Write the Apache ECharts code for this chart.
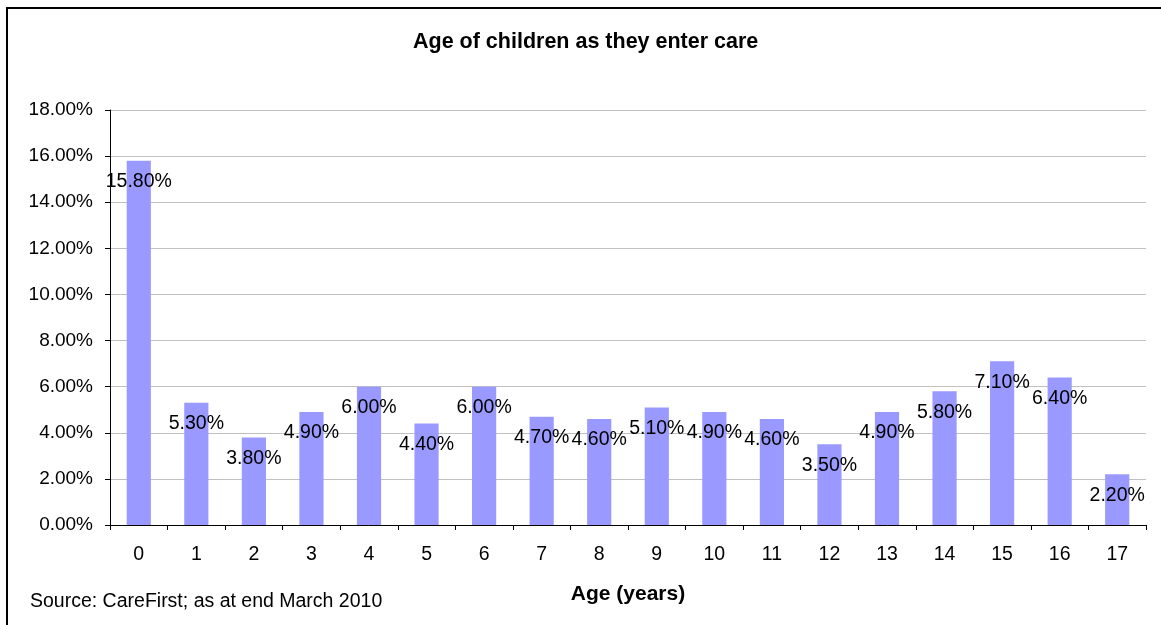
<!DOCTYPE html>
<html>
<head>
<meta charset="utf-8">
<script src="https://cdn.jsdelivr.net/npm/echarts@6/dist/echarts.min.js"></script>
<style>
  html, body { margin: 0; padding: 0; background: #ffffff; }
  #chart { width: 1161px; height: 625px; }
</style>
</head>
<body>
<div id="chart"></div>
<script>
// Age of children entering care, share of all entrants (%)
const ages = ['0', '1', '2', '3', '4', '5', '6', '7', '8', '9', '10', '11', '12', '13', '14', '15', '16', '17'];
const sharePct = [15.8, 5.3, 3.8, 4.9, 6.0, 4.4, 6.0, 4.7, 4.6, 5.1, 4.9, 4.6, 3.5, 4.9, 5.8, 7.1, 6.4, 2.2];
const yMin = 0, yMax = 18, yStep = 2;

const FONT = '"Liberation Sans", Arial, sans-serif';
const chart = echarts.init(document.getElementById('chart'), null, { renderer: 'canvas' });

chart.setOption({
  backgroundColor: '#ffffff',
  animation: false,
  title: {
    text: 'Age of children as they enter care',
    left: 408,
    top: 26,
    textStyle: { fontFamily: FONT, fontSize: 21.5, fontWeight: 'bold', color: '#000000' }
  },
  graphic: [
    {
      type: 'rect',
      shape: { x: 7, y: 8, width: 1300, height: 800 },
      style: { fill: null, stroke: '#000000', lineWidth: 2 },
      silent: true
    },
    {
      type: 'text',
      left: 30,
      top: 592,
      style: {
        text: 'Source: CareFirst; as at end March 2010',
        font: '19.5px ' + FONT,
        fill: '#000000'
      }
    }
  ],
  grid: { left: 110, right: 15, top: 110, bottom: 100, containLabel: false },
  xAxis: {
    type: 'category',
    data: ages,
    name: 'Age (years)',
    nameLocation: 'middle',
    nameGap: 59,
    nameTextStyle: { fontFamily: FONT, fontSize: 21, fontWeight: 'bold', color: '#000000' },
    axisLine: { lineStyle: { color: '#000000', width: 1 } },
    axisTick: { show: true, length: 5, alignWithLabel: false, lineStyle: { color: '#000000' } },
    axisLabel: { fontFamily: FONT, fontSize: 19.5, color: '#000000', margin: 20 },
    splitLine: { show: false }
  },
  yAxis: {
    type: 'value',
    min: yMin,
    max: yMax,
    interval: yStep,
    axisLine: { show: true, lineStyle: { color: '#000000', width: 1 } },
    axisTick: { show: true, length: 5, lineStyle: { color: '#000000' } },
    axisLabel: {
      fontFamily: FONT, fontSize: 19, color: '#000000', margin: 17,
      formatter: v => v.toFixed(2) + '%'
    },
    splitLine: { show: true, lineStyle: { color: '#c0c0c0', width: 1 } }
  },
  series: [{
    type: 'bar',
    data: sharePct,
    barWidth: '42%',
    itemStyle: { color: '#9999ff' },
    label: {
      show: true,
      position: 'insideTop',
      distance: 11,
      fontFamily: FONT,
      fontSize: 19.5,
      color: '#000000',
      formatter: p => p.value.toFixed(2) + '%'
    }
  }]
});
</script>
</body>
</html>
